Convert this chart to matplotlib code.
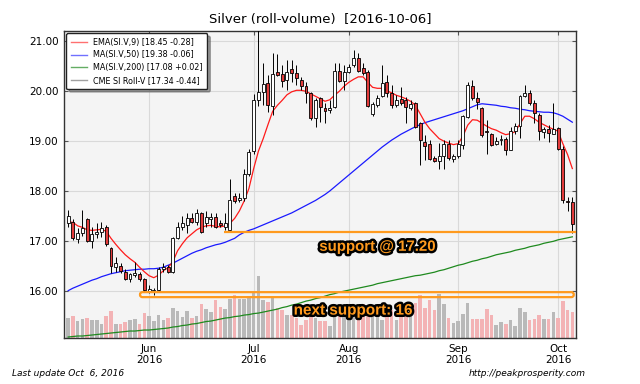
import numpy as np
import pandas as pd
import matplotlib
matplotlib.use("Agg")
import matplotlib.pyplot as plt
from matplotlib.patches import FancyBboxPatch
from matplotlib.lines import Line2D
import matplotlib.patheffects as pe

# ---------------- data ----------------
holidays = ["2016-05-30", "2016-07-04", "2016-09-05"]
dates = pd.bdate_range("2016-05-06", "2016-10-06")
dates = dates[~dates.isin(pd.to_datetime(holidays))]

opens = [17.35, 17.38, 17.03, 17.15, 17.43, 17.00, 17.13, 17.17, 17.28, 16.85,
         16.47, 16.50, 16.38, 16.23, 16.32, 16.33, 16.23, 16.00, 16.00, 16.02,
         16.43, 16.47, 16.38, 17.05, 17.27, 17.32, 17.45, 17.37, 17.55, 17.35,
         17.43, 17.48, 17.36, 17.28, 17.22, 17.89, 17.82, 17.85, 18.35, 18.80,
         19.82, 19.99, 20.16, 19.71, 20.39, 20.34, 20.22, 20.44, 20.37, 20.22,
         20.10, 19.96, 19.46, 19.86, 19.67, 19.62, 19.69, 20.41, 20.20, 20.39,
         20.53, 20.66, 20.46, 20.39, 19.54, 19.72, 19.91, 20.18, 19.96, 19.72,
         19.84, 19.82, 19.67, 19.76, 19.37, 18.99, 18.94, 18.66, 18.60, 18.70,
         18.95, 18.65, 18.70, 18.92, 19.49, 20.10, 19.86, 19.67, 19.20, 19.14,
         18.94, 19.02, 19.05, 18.83, 19.21, 19.30, 19.91, 19.96, 19.77, 19.52,
         19.18, 19.25, 19.14, 19.26, 18.85, 17.80, 17.77]
highs = [17.61, 17.43, 17.25, 17.61, 17.45, 17.28, 17.35, 17.38, 17.31, 16.88,
         16.68, 16.55, 16.43, 16.36, 16.58, 16.38, 16.25, 16.12, 16.05, 16.47,
         16.55, 16.52, 17.08, 17.38, 17.49, 17.55, 17.55, 17.63, 17.58, 17.59,
         17.55, 17.55, 17.42, 17.55, 18.25, 17.95, 17.95, 18.45, 18.85, 19.95,
         21.30, 20.56, 20.33, 20.76, 20.74, 20.53, 20.63, 20.63, 20.53, 20.29,
         20.19, 19.99, 19.86, 19.89, 19.76, 19.82, 20.56, 20.56, 20.53, 20.55,
         20.83, 20.76, 20.56, 20.43, 19.78, 19.92, 20.53, 20.33, 20.13, 19.92,
         20.09, 19.89, 19.82, 19.79, 19.39, 19.12, 19.02, 18.70, 18.96, 19.02,
         19.02, 18.75, 19.02, 19.52, 20.19, 20.22, 19.99, 19.69, 19.42, 19.16,
         19.09, 19.12, 19.09, 19.29, 19.36, 19.92, 20.12, 20.02, 19.82, 19.56,
         19.29, 19.32, 19.77, 19.29, 18.90, 17.87, 17.87]
lows = [17.28, 17.02, 16.95, 17.10, 16.98, 16.85, 17.05, 17.08, 16.90, 16.35,
        16.38, 16.35, 16.22, 16.18, 16.28, 16.20, 15.98, 15.95, 15.92, 16.00,
        16.38, 16.36, 16.36, 17.03, 17.22, 17.15, 17.35, 17.32, 17.15, 17.28,
        17.28, 17.25, 17.28, 17.22, 17.18, 17.75, 17.78, 17.80, 18.30, 18.75,
        19.70, 19.72, 19.59, 19.52, 20.30, 20.09, 20.02, 20.19, 20.13, 20.02,
        19.76, 19.42, 19.29, 19.39, 19.36, 19.56, 19.66, 20.19, 20.02, 20.36,
        20.49, 20.39, 20.33, 19.69, 19.51, 19.69, 19.89, 19.89, 19.66, 19.69,
        19.72, 19.36, 19.62, 19.26, 18.53, 18.62, 18.62, 18.58, 18.45, 18.45,
        18.62, 18.59, 18.66, 18.85, 19.46, 19.82, 19.64, 19.09, 18.75, 18.90,
        18.92, 18.92, 18.72, 18.82, 19.14, 19.06, 19.89, 19.72, 19.36, 19.02,
        19.06, 18.99, 19.14, 18.83, 17.75, 17.59, 17.15]
closes = [17.50, 17.05, 17.16, 17.25, 17.00, 17.13, 17.18, 17.26, 16.93, 16.50,
          16.55, 16.40, 16.24, 16.33, 16.35, 16.24, 16.02, 16.03, 16.02, 16.43,
          16.48, 16.38, 17.05, 17.28, 17.35, 17.45, 17.38, 17.55, 17.18, 17.47,
          17.48, 17.28, 17.32, 17.35, 17.82, 17.80, 17.86, 18.35, 18.79, 19.82,
          19.99, 20.14, 19.72, 20.34, 20.33, 20.20, 20.39, 20.36, 20.27, 20.10,
          19.96, 19.47, 19.82, 19.69, 19.60, 19.67, 20.41, 20.20, 20.38, 20.49,
          20.66, 20.41, 20.36, 19.71, 19.74, 19.87, 20.16, 19.96, 19.72, 19.82,
          19.76, 19.69, 19.74, 19.29, 19.02, 18.91, 18.64, 18.60, 18.71, 18.94,
          18.66, 18.71, 18.95, 19.50, 20.12, 19.86, 19.79, 19.12, 19.18, 18.92,
          19.00, 19.03, 18.83, 19.21, 19.30, 19.91, 19.96, 19.76, 19.56, 19.21,
          19.24, 19.17, 19.24, 18.85, 17.82, 17.78, 17.34]
volume = [41, 44, 35, 38, 41, 36, 36, 29, 45, 54, 28, 29, 33, 37, 38, 28, 51, 45,
          35, 47, 36, 41, 61, 55, 43, 54, 41, 44, 69, 59, 53, 76, 63, 59, 78, 86,
          79, 79, 84, 90, 124, 76, 72, 80, 60, 56, 46, 46, 41, 26, 36, 49, 41, 35,
          35, 25, 56, 46, 46, 49, 56, 64, 68, 64, 56, 49, 36, 66, 56, 37, 63, 46,
          59, 71, 86, 61, 77, 57, 89, 68, 40, 31, 34, 49, 71, 39, 39, 39, 58, 46,
          26, 33, 29, 36, 25, 61, 53, 36, 39, 46, 38, 38, 53, 41, 75, 57, 53]
ema9 = [17.38, 17.37, 17.30, 17.27, 17.22, 17.21, 17.22, 17.23, 17.19, 17.05,
        16.93, 16.82, 16.72, 16.64, 16.57, 16.47, 16.38, 16.30, 16.26, 16.31,
        16.40, 16.46, 16.58, 16.80, 16.94, 17.06, 17.14, 17.22, 17.27, 17.30,
        17.31, 17.29, 17.28, 17.30, 17.35, 17.45, 17.60, 17.80, 18.05, 18.45,
        18.80, 19.05, 19.33, 19.60, 19.72, 19.82, 19.93, 19.99, 20.02, 20.02,
        20.00, 19.95, 19.90, 19.85, 19.80, 19.83, 19.92, 20.00, 20.10, 20.18,
        20.24, 20.29, 20.29, 20.18, 20.08, 20.06, 20.06, 20.01, 19.97, 19.92,
        19.89, 19.85, 19.80, 19.72, 19.55, 19.38, 19.25, 19.15, 19.05, 19.00,
        18.96, 18.93, 18.95, 19.10, 19.32, 19.43, 19.42, 19.36, 19.30, 19.25,
        19.22, 19.17, 19.13, 19.15, 19.19, 19.35, 19.50, 19.50, 19.45, 19.38,
        19.33, 19.28, 19.24, 19.20, 18.95, 18.73, 18.45]
ma50 = [16.00, 16.05, 16.09, 16.13, 16.17, 16.21, 16.24, 16.28, 16.31, 16.34,
        16.36, 16.38, 16.40, 16.41, 16.42, 16.43, 16.43, 16.44, 16.44, 16.45,
        16.47, 16.51, 16.55, 16.60, 16.65, 16.70, 16.75, 16.79, 16.82, 16.86,
        16.89, 16.92, 16.94, 16.97, 17.01, 17.05, 17.12, 17.17, 17.21, 17.24,
        17.28, 17.32, 17.36, 17.40, 17.44, 17.48, 17.52, 17.56, 17.61, 17.66,
        17.71, 17.76, 17.81, 17.87, 17.93, 18.00, 18.08, 18.16, 18.24, 18.32,
        18.40, 18.48, 18.56, 18.64, 18.72, 18.80, 18.88, 18.95, 19.02, 19.08,
        19.14, 19.19, 19.24, 19.29, 19.33, 19.37, 19.40, 19.43, 19.46, 19.49,
        19.52, 19.55, 19.58, 19.61, 19.65, 19.69, 19.73, 19.75, 19.74, 19.73,
        19.72, 19.70, 19.69, 19.67, 19.66, 19.64, 19.63, 19.61, 19.60, 19.59,
        19.58, 19.58, 19.57, 19.54, 19.50, 19.44, 19.38]
ma200 = [15.07, 15.08, 15.09, 15.09, 15.10, 15.11, 15.12, 15.13, 15.14, 15.15,
         15.16, 15.17, 15.18, 15.19, 15.19, 15.20, 15.21, 15.21, 15.22, 15.23,
         15.24, 15.25, 15.27, 15.28, 15.30, 15.31, 15.33, 15.34, 15.36, 15.38,
         15.39, 15.41, 15.43, 15.45, 15.46, 15.48, 15.49, 15.51, 15.52, 15.54,
         15.55, 15.57, 15.59, 15.61, 15.63, 15.66, 15.68, 15.71, 15.73, 15.76,
         15.79, 15.81, 15.84, 15.86, 15.89, 15.92, 15.94, 15.97, 15.99, 16.01,
         16.03, 16.05, 16.07, 16.09, 16.11, 16.14, 16.16, 16.18, 16.20, 16.22,
         16.24, 16.26, 16.28, 16.30, 16.31, 16.33, 16.35, 16.37, 16.40, 16.42,
         16.45, 16.48, 16.51, 16.53, 16.56, 16.59, 16.61, 16.64, 16.66, 16.69,
         16.72, 16.74, 16.76, 16.78, 16.81, 16.83, 16.85, 16.88, 16.90, 16.92,
         16.95, 16.97, 16.99, 17.02, 17.04, 17.06, 17.08]
legend_labels = ["EMA(SI.V,9) [18.45 -0.28]", "MA(SI.V,50) [19.38 -0.06]",
                 "MA(SI.V,200) [17.08 +0.02]", "CME SI Roll-V [17.34 -0.44]"]
support_level = 17.18
next_support = 15.92
title = "Silver (roll-volume)  [2016-10-06]"

# ---------------- figure ----------------
YMIN, YMAX = 15.05, 21.21
XMIN, XMAX = -0.88, 106.77
VOL_SCALE = 0.01  # price units per volume unit

fig = plt.figure(figsize=(6.4, 3.84), dpi=100)
ax = fig.add_axes([64 / 640, 1 - 338 / 384, 512 / 640, 307 / 384])
ax.set_facecolor("#f4f4f4")

x = np.arange(len(closes))
o = np.array(opens); h = np.array(highs); l = np.array(lows); c = np.array(closes)
down = c < o

# volume bars
vcol = np.where(down, "#f3b3b5", "#b9b9b9")
ax.bar(x, np.array(volume) * VOL_SCALE, bottom=YMIN, width=0.75, color=vcol,
       linewidth=0, zorder=1)

# moving averages
ax.plot(x, ma200, color="#1f8a1f", lw=0.9, zorder=3)
ax.plot(x, ma50, color="#1a1aff", lw=0.9, zorder=3)
ax.plot(x, ema9, color="#ff1a1a", lw=0.9, zorder=3)

# candles
ax.vlines(x, l, h, color="black", lw=0.7, zorder=4)
body_h = np.maximum(np.abs(c - o), 0.015)
ax.bar(x, body_h, bottom=np.minimum(o, c), width=0.62,
       color=np.where(down, "#e23b3b", "white"), edgecolor="black",
       linewidth=0.6, zorder=5)

# support annotations
orange = "#ff9a1e"
ax.plot([32.8, XMAX], [support_level, support_level], color=orange, lw=1.6,
        zorder=6, solid_capstyle="butt")
box = FancyBboxPatch((15.1, next_support - 0.05), 106.3 - 15.1, 0.10,
                     boxstyle="round,pad=0,rounding_size=0.5",
                     mutation_aspect=(1 / 49.9) / (1 / 4.756),
                     facecolor="none", edgecolor=orange, lw=1.6, zorder=6)
ax.add_patch(box)
fx = [pe.withStroke(linewidth=3.5, foreground="black")]
ax.text(65.0, 16.88, "support @ 17.20", ha="center", va="center",
        fontsize=10.8, fontweight="bold", family="Liberation Sans",
        color=orange, path_effects=fx, zorder=7)
ax.text(59.9, 15.60, "next support: 16", ha="center", va="center",
        fontsize=11, fontweight="bold", family="Liberation Sans",
        color=orange, path_effects=fx, zorder=7)

# axes styling
ax.set_xlim(XMIN, XMAX)
ax.set_ylim(YMIN, YMAX)
ax.set_yticks([16, 17, 18, 19, 20, 21])
ax.yaxis.set_major_formatter(matplotlib.ticker.FormatStrFormatter("%.2f"))
month_idx = [i for i in range(1, len(dates)) if dates[i].month != dates[i - 1].month]
ax.set_xticks(month_idx)
ax.set_xticklabels([dates[i].strftime("%b\n%Y") for i in month_idx])
ax.tick_params(axis="both", direction="in", length=3, labelsize=7.5,
               top=True, right=True, color="#555555", pad=4)
ax.grid(True, color="#d9d9d9", lw=0.8, zorder=0)
ax.set_axisbelow(True)
for s in ax.spines.values():
    s.set_color("#333333")
    s.set_linewidth(1.0)

ax.set_title(title, fontsize=9.5, pad=6)

handles = [Line2D([], [], color="#ff3333", lw=1, alpha=0.7),
           Line2D([], [], color="#3333ff", lw=1, alpha=0.7),
           Line2D([], [], color="#228b22", lw=1, alpha=0.7),
           Line2D([], [], color="#888888", lw=1, alpha=0.8)]
leg = ax.legend(handles, legend_labels, loc="upper left", fontsize=5.8,
                frameon=True, fancybox=True, shadow=True, borderaxespad=0.3,
                handlelength=2.0, labelspacing=0.45, borderpad=0.55)
leg.get_frame().set_edgecolor("#222222")
leg.get_frame().set_facecolor("white")
leg.get_frame().set_alpha(1)
leg.set_zorder(10)

fig.text(12 / 640, 1 - 374 / 384, "Last update Oct  6, 2016", fontsize=6.5,
         style="italic", ha="left", va="center")
fig.text(586 / 640, 1 - 374 / 384, "http://peakprosperity.com", fontsize=6.5,
         style="italic", ha="right", va="center")

fig.savefig("out.png", dpi=100)
